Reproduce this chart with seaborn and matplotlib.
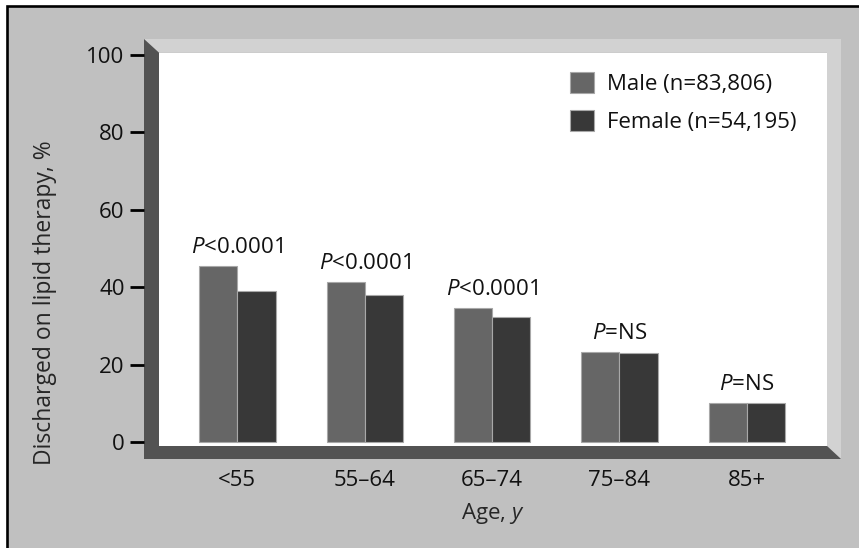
"""
Lipid therapy at discharge by age group and sex, drawn in the style of a
printed journal figure (grey panel, bevelled plot area).
"""

import numpy as np
import pandas as pd
import matplotlib
matplotlib.use('Agg')
import matplotlib.pyplot as plt
import seaborn as sns
from matplotlib.patches import Polygon, Rectangle

ages = ['<55', '55–64', '65–74', '75–84', '85+']
male_pct = [45.4, 41.4, 34.7, 23.2, 10.1]
female_pct = [39.0, 38.0, 32.4, 23.0, 10.1]
p_values = ['<0.0001', '<0.0001', '<0.0001', '=NS', '=NS']
sex_labels = ['Male (n=83,806)', 'Female (n=54,195)']

W, H = 859, 548
FS = 16


def px(x, y):
    # pixel position (from top-left) -> figure fraction
    return (x / W, 1 - y / H)


def draw_frame(fig):
    # grey panel with a black frame on top/left
    fig.add_artist(Rectangle((7 / W, -0.05), 1.05, 1 - 6 / H + 0.05,
                             transform=fig.transFigure, facecolor='#c0c0c0',
                             edgecolor='black', lw=1.9, zorder=-3))
    dark = [(144, 39), (159, 52.7), (159, 446), (827, 446), (841, 459), (144, 459)]
    light = [(144, 39), (841, 39), (841, 459), (827, 446), (827, 52.7), (159, 52.7)]
    fig.add_artist(Polygon([px(*p) for p in light], closed=True, transform=fig.transFigure,
                           facecolor='#d2d2d2', edgecolor='none', zorder=-2))
    fig.add_artist(Polygon([px(*p) for p in dark], closed=True, transform=fig.transFigure,
                           facecolor='#535353', edgecolor='none', zorder=-2))


def main():
    sns.set_theme(style='white')
    plt.rcParams['font.family'] = ['Open Sans', 'DejaVu Sans']
    plt.rcParams['mathtext.fontset'] = 'custom'
    plt.rcParams['mathtext.it'] = 'Open Sans:italic'
    plt.rcParams['mathtext.rm'] = 'Open Sans'
    plt.rcParams['text.color'] = '#111111'

    df = pd.DataFrame({
        'age': ages * 2,
        'pct': male_pct + female_pct,
        'sex': [sex_labels[0]] * len(ages) + [sex_labels[1]] * len(ages),
    })

    fig = plt.figure(figsize=(W / 100, H / 100), dpi=100, facecolor='white')
    draw_frame(fig)
    ax = fig.add_axes([159 / W, 1 - 446 / H, (827 - 159) / W, (446 - 52.7) / H])
    ax.set_facecolor('white')

    sns.barplot(data=df, x='age', y='pct', hue='sex', palette=['#666666', '#383838'],
                width=0.6, gap=0, saturation=1, errorbar=None,
                edgecolor='#a8a8a8', linewidth=0.8, ax=ax)

    for i, p in enumerate(p_values):
        top = max(male_pct[i], female_pct[i])
        ax.text(i, top + 3.4, r'$\mathit{P}$' + p, ha='center', va='baseline', fontsize=FS)

    ax.set_xlim(-0.615, 4.629)
    ax.set_ylim(-0.955, 100.59)
    ax.set_yticks(np.arange(0, 101, 20))
    for s in ax.spines.values():
        s.set_visible(False)
    ax.spines['left'].set_position(('outward', 10.8))
    ax.tick_params(axis='y', left=True, direction='out', length=10, width=2,
                   color='black', pad=4, labelsize=FS, labelcolor='#111111')
    ax.tick_params(axis='x', length=0, pad=17.5, labelsize=FS, labelcolor='#111111')

    ax.set_xlabel(r'Age, $\mathit{y}$', fontsize=FS)
    ax.set_ylabel('Discharged on lipid therapy, %', fontsize=16.5)
    ax.xaxis.set_label_coords(0.5, -0.14)
    ax.yaxis.set_label_coords(-0.153, 0.365)

    handles, labels = ax.get_legend_handles_labels()
    ax.legend(handles, labels, loc='upper left', bbox_to_anchor=px(570, 72),
              bbox_transform=fig.transFigure, frameon=False, borderpad=0,
              borderaxespad=0, handlelength=1.08, handleheight=1.05,
              handletextpad=0.6, labelspacing=0.7, fontsize=FS)

    fig.savefig('out.png', dpi=100)


if __name__ == '__main__':
    main()
